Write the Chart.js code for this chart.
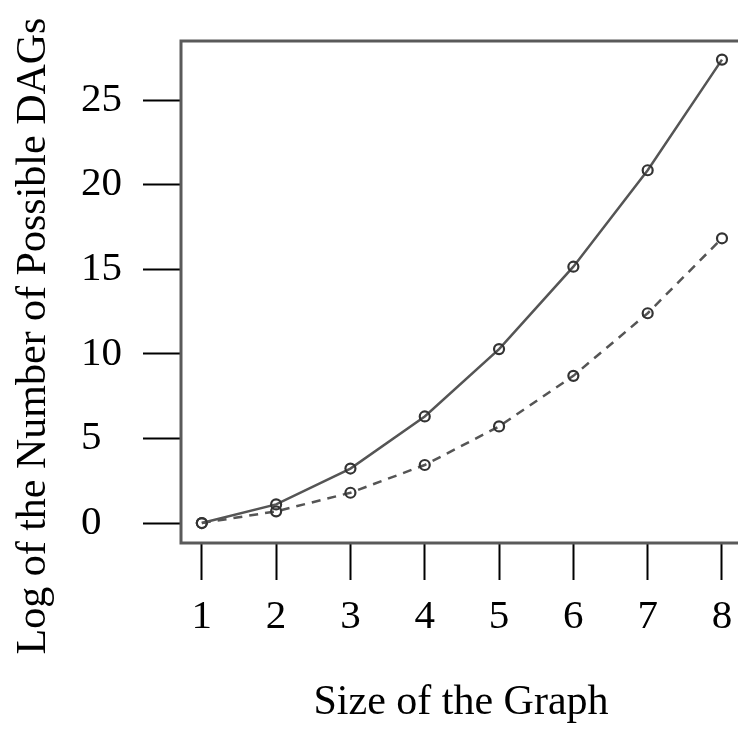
<!DOCTYPE html>
<html>
<head>
<meta charset="utf-8">
<script src="https://cdn.jsdelivr.net/npm/chart.js@4"></script>
<style>
  html, body { margin: 0; padding: 0; background: #fff; overflow: hidden; }
  #wrap { width: 750px; height: 732px; }
</style>
</head>
<body>
<div id="wrap"><canvas id="dagChart" width="750" height="732"></canvas></div>
<script>
// Graph sizes and log counts
const sizes = [1, 2, 3, 4, 5, 6, 7, 8];
const labelledDags = [0, 1.10, 3.22, 6.30, 10.28, 15.15, 20.85, 27.39];   // solid
const unlabelledDags = [0, 0.69, 1.79, 3.43, 5.71, 8.70, 12.40, 16.83];   // dashed
const xTicks = [1, 2, 3, 4, 5, 6, 7, 8];
const yTicks = [0, 5, 10, 15, 20, 25];

const xTitle = 'Size of the Graph';
const yTitle = 'Log of the Number of Possible DAGs';
const serif = "'Liberation Serif', 'DejaVu Serif', serif";

// draws the plot box and the two axis titles
const boxAndTitles = {
  id: 'boxAndTitles',
  afterDraw(chart) {
    const ctx = chart.ctx;
    const a = chart.chartArea;
    ctx.save();
    ctx.strokeStyle = '#5a5a5a';
    ctx.lineWidth = 3;
    ctx.strokeRect(a.left, a.top, a.right - a.left, a.bottom - a.top);

    ctx.fillStyle = '#000';
    ctx.font = '42px ' + serif;
    ctx.textAlign = 'center';
    ctx.textBaseline = 'alphabetic';
    ctx.fillText(xTitle, 461, 714);

    ctx.translate(45, 336);
    ctx.rotate(-Math.PI / 2);
    ctx.fillText(yTitle, 0, 0);
    ctx.restore();
  }
};

const pointStyle = {
  pointRadius: 5,
  pointBorderWidth: 2.2,
  pointBorderColor: '#333',
  pointBackgroundColor: 'rgba(255,255,255,0)',
  pointHoverRadius: 5
};

const ctx = document.getElementById('dagChart').getContext('2d');
new Chart(ctx, {
  type: 'line',
  data: {
    datasets: [
      Object.assign({
        label: 'labelled',
        data: sizes.map((s, i) => ({ x: s, y: labelledDags[i] })),
        borderColor: '#555',
        borderWidth: 2.5
      }, pointStyle),
      Object.assign({
        label: 'unlabelled',
        data: sizes.map((s, i) => ({ x: s, y: unlabelledDags[i] })),
        borderColor: '#555',
        borderWidth: 2.5,
        borderDash: [9, 7]
      }, pointStyle)
    ]
  },
  options: {
    responsive: false,
    animation: false,
    layout: { padding: { left: 81, top: 41, right: 6, bottom: 0 } },
    plugins: {
      legend: { display: false },
      tooltip: { enabled: false }
    },
    scales: {
      x: {
        type: 'linear',
        min: 0.72,
        max: 8.28,
        afterBuildTicks: s => { s.ticks = xTicks.map(v => ({ value: v })); },
        afterFit: s => { s.height = 189; },
        border: { display: false },
        grid: {
          drawOnChartArea: false,
          tickLength: 37,
          tickColor: '#000',
          tickWidth: 2
        },
        ticks: {
          padding: 13,
          maxRotation: 0,
          color: '#000',
          font: { family: serif, size: 41 }
        }
      },
      y: {
        type: 'linear',
        min: -1.18,
        max: 28.49,
        afterBuildTicks: s => { s.ticks = yTicks.map(v => ({ value: v })); },
        afterFit: s => { s.width = 100; },
        border: { display: false },
        grid: {
          drawOnChartArea: false,
          tickLength: 38,
          tickColor: '#000',
          tickWidth: 2
        },
        ticks: {
          crossAlign: 'far',
          color: '#000',
          font: { family: serif, size: 41 }
        }
      }
    }
  },
  plugins: [boxAndTitles]
});
</script>
</body>
</html>
